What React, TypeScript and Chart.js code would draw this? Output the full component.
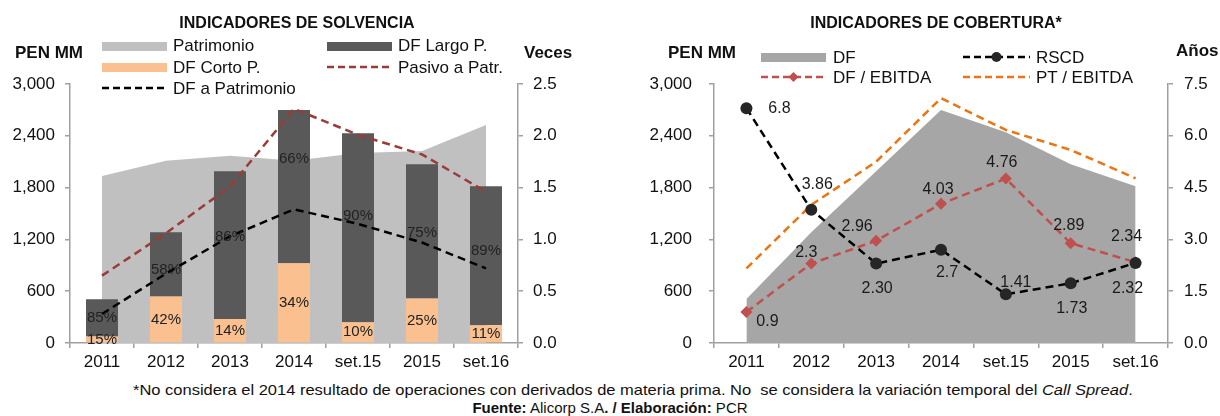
import React, { useEffect, useRef } from "react";
import { Chart, registerables } from "chart.js";
Chart.register(...registerables);

const categories = ["2011", "2012", "2013", "2014", "set.15", "2015", "set.16"];

// Left chart: Indicadores de Solvencia
const patrimonio = [1935, 2110, 2170, 2110, 2200, 2225, 2525];
const dfCorto = [75, 538, 278, 925, 240, 515, 205];
const dfLargo = [432, 744, 1711, 1775, 2190, 1555, 1610];
const pasivoPatr = [0.65, 1.06, 1.51, 2.26, 2.01, 1.82, 1.46];
const dfPatrimonio = [0.28, 0.67, 1.03, 1.29, 1.15, 0.97, 0.72];
const cortoPct = ["15%", "42%", "14%", "34%", "10%", "25%", "11%"];
const largoPct = ["85%", "58%", "86%", "66%", "90%", "75%", "89%"];
const leftYTicks = { min: 0, max: 3000, step: 600 };
const leftY1Ticks = { min: 0, max: 2.5, step: 0.5 };

// Right chart: Indicadores de Cobertura
const dfTotal = [510, 1282, 1989, 2700, 2440, 2070, 1815];
const rscd = [6.8, 3.86, 2.3, 2.7, 1.41, 1.73, 2.32];
const dfEbitda = [0.9, 2.3, 2.96, 4.03, 4.76, 2.89, 2.34];
const ptEbitda = [2.16, 4.0, 5.25, 7.09, 6.17, 5.59, 4.77];
const rscdLabels = ["6.8", "3.86", "2.30", "2.7", "1.41", "1.73", "2.32"];
const dfEbitdaLabels = ["0.9", "2.3", "2.96", "4.03", "4.76", "2.89", "2.34"];
const rightYTicks = { min: 0, max: 3000, step: 600 };
const rightY1Ticks = { min: 0, max: 7.5, step: 1.5 };

// label placement (style) relative to points / segment centres
const rscdOffsets = [[33, 0], [6, -25], [1, 25], [6, 23], [10, -12], [1, 25], [-8, 26]];
const dfEbitdaOffsets = [[21, 10], [-5, -11], [-19, -14], [-3, -14], [-4, -16], [-2, -18], [-9, -26]];
const largoLabelShift = [0, 5, -8, -28, -12, 1, -5];

const FONT = "'Liberation Sans', Arial, Helvetica, sans-serif";
const AXIS = "#a0a0a0";
const TXT = "#111111";

Chart.defaults.font.family = FONT;

function axisCommon(extra: any) {
  return {
    grid: { drawOnChartArea: false, drawTicks: true, tickLength: 5, color: AXIS, lineWidth: 1.5 },
    border: { display: true, color: AXIS, width: 1.5 },
    ...extra,
  };
}

function makeX() {
  return axisCommon({
    offset: true,
    grid: { offset: true, drawOnChartArea: false, drawTicks: true, tickLength: 5, color: AXIS, lineWidth: 1.5 },
    ticks: { font: { size: 17 }, color: TXT, padding: 4, maxRotation: 0, autoSkip: false },
    afterFit: (s: any) => { s.height = 37; },
  });
}

function makeY(position: string, t: any, width: number, pad: number, fmt: (v: number) => string, stacked = false) {
  return axisCommon({
    position,
    stacked,
    min: t.min,
    max: t.max,
    ticks: { stepSize: t.step, font: { size: 17 }, color: TXT, padding: pad, callback: (v: any) => fmt(Number(v)) },
    afterFit: (s: any) => { s.width = width; },
  });
}

const barLabelPlugin = {
  id: "barLabels",
  afterDatasetsDraw(chart: any) {
    const ctx = chart.ctx;
    ctx.save();
    ctx.font = `15px ${FONT}`;
    ctx.fillStyle = "#222222";
    ctx.textAlign = "center";
    ctx.textBaseline = "middle";
    chart.data.datasets.forEach((ds: any, i: number) => {
      if (!ds.pctLabels) return;
      const meta = chart.getDatasetMeta(i);
      meta.data.forEach((el: any, j: number) => {
        const cy = (el.y + el.base) / 2 + (ds.pctShift ? ds.pctShift[j] : 0);
        ctx.fillText(ds.pctLabels[j], el.x, cy);
      });
    });
    ctx.restore();
  },
};

const pointLabelPlugin = {
  id: "pointLabels",
  afterDatasetsDraw(chart: any) {
    const ctx = chart.ctx;
    ctx.save();
    ctx.font = `16px ${FONT}`;
    ctx.fillStyle = "#1a1a1a";
    ctx.textAlign = "center";
    ctx.textBaseline = "middle";
    chart.data.datasets.forEach((ds: any, i: number) => {
      if (!ds.ptLabels) return;
      const meta = chart.getDatasetMeta(i);
      meta.data.forEach((el: any, j: number) => {
        const off = ds.ptOffsets[j];
        ctx.fillText(ds.ptLabels[j], el.x + off[0], el.y + off[1]);
      });
    });
    ctx.restore();
  },
};

function LeftChart() {
  const ref = useRef<HTMLCanvasElement>(null);
  useEffect(() => {
    const chart = new Chart(ref.current as HTMLCanvasElement, {
      type: "bar",
      data: {
        labels: categories,
        datasets: [
          { type: "line", label: "DF a Patrimonio", data: dfPatrimonio, yAxisID: "y1", borderColor: "#000000", borderDash: [8, 5], borderWidth: 2.5, pointRadius: 0, fill: false, order: 0, tension: 0 } as any,
          { type: "line", label: "Pasivo a Patr.", data: pasivoPatr, yAxisID: "y1", borderColor: "#9b3b38", borderDash: [8, 5], borderWidth: 2.5, pointRadius: 0, fill: false, order: 0, tension: 0 } as any,
          { type: "bar", label: "DF Corto P.", data: dfCorto, yAxisID: "y", backgroundColor: "#fac090", stack: "df", order: 1, barPercentage: 0.5, categoryPercentage: 1, pctLabels: cortoPct } as any,
          { type: "bar", label: "DF Largo P.", data: dfLargo, yAxisID: "y", backgroundColor: "#595959", stack: "df", order: 1, barPercentage: 0.5, categoryPercentage: 1, pctLabels: largoPct, pctShift: largoLabelShift } as any,
          { type: "line", label: "Patrimonio", data: patrimonio, yAxisID: "y", backgroundColor: "#c0c0c0", borderColor: "rgba(0,0,0,0)", borderWidth: 1, pointRadius: 0, fill: "origin", order: 2, stack: "area", tension: 0 } as any,
        ],
      },
      options: {
        animation: false,
        responsive: false,
        layout: { padding: { top: 84, left: 0, right: 0, bottom: 0 } },
        plugins: { legend: { display: false }, tooltip: { enabled: false }, title: { display: false } },
        scales: {
          x: makeX(),
          y: makeY("left", leftYTicks, 70, 10, (v) => v.toLocaleString("en-US"), true),
          y1: makeY("right", leftY1Ticks, 605 - 518, 10, (v) => v.toFixed(1)),
        } as any,
      },
      plugins: [barLabelPlugin],
    });
    return () => chart.destroy();
  }, []);
  return <canvas ref={ref} width={605} height={380} style={{ position: "absolute", left: 0, top: 0, width: 605, height: 380 }} />;
}

function RightChart() {
  const ref = useRef<HTMLCanvasElement>(null);
  useEffect(() => {
    const chart = new Chart(ref.current as HTMLCanvasElement, {
      type: "line",
      data: {
        labels: categories,
        datasets: [
          { label: "RSCD", data: rscd, yAxisID: "y1", borderColor: "#000000", borderDash: [8, 5], borderWidth: 2.5, pointRadius: 6, pointStyle: "circle", pointBackgroundColor: "#262626", pointBorderColor: "#262626", pointBorderWidth: 0, fill: false, order: 0, tension: 0, ptLabels: rscdLabels, ptOffsets: rscdOffsets } as any,
          { label: "DF / EBITDA", data: dfEbitda, yAxisID: "y1", borderColor: "#c0504d", borderDash: [8, 5], borderWidth: 2.5, pointRadius: 6, pointStyle: "rectRot", pointBackgroundColor: "#c0504d", pointBorderColor: "#c0504d", pointBorderWidth: 0, fill: false, order: 1, tension: 0, ptLabels: dfEbitdaLabels, ptOffsets: dfEbitdaOffsets } as any,
          { label: "PT / EBITDA", data: ptEbitda, yAxisID: "y1", borderColor: "#ec7511", borderDash: [8, 5], borderWidth: 2.5, pointRadius: 0, fill: false, order: 1, tension: 0 } as any,
          { label: "DF", data: dfTotal, yAxisID: "y", backgroundColor: "#a6a6a6", borderColor: "rgba(0,0,0,0)", borderWidth: 1, pointRadius: 0, fill: "origin", order: 2, tension: 0 } as any,
        ],
      },
      options: {
        animation: false,
        responsive: false,
        layout: { padding: { top: 84, left: 0, right: 0, bottom: 0 } },
        plugins: { legend: { display: false }, tooltip: { enabled: false }, title: { display: false } },
        scales: {
          x: makeX(),
          y: makeY("left", rightYTicks, 114, 17, (v) => v.toLocaleString("en-US")),
          y1: makeY("right", rightY1Ticks, 620 - 568, 11, (v) => v.toFixed(1)),
        } as any,
      },
      plugins: [pointLabelPlugin],
    });
    return () => chart.destroy();
  }, []);
  return <canvas ref={ref} width={620} height={380} style={{ position: "absolute", left: 600, top: 0, width: 620, height: 380 }} />;
}

function Txt({ x, cy, size, bold, children, anchor, sx }: any) {
  return (
    <div
      style={{
        position: "absolute",
        left: anchor === "center" ? x - 300 : x,
        width: anchor === "center" ? 600 : undefined,
        textAlign: anchor === "center" ? "center" : "left",
        top: cy - size / 2,
        fontSize: size,
        lineHeight: 1,
        fontWeight: bold ? "bold" : "normal",
        whiteSpace: "nowrap",
        color: "#111",
        transform: sx ? `scaleX(${sx})` : undefined,
        transformOrigin: anchor === "center" ? "center" : "left",
      }}
    >
      {children}
    </div>
  );
}

function Box({ x, cy, w, color }: any) {
  return <div style={{ position: "absolute", left: x, top: cy - 4.5, width: w, height: 9, background: color }} />;
}

function Dash({ x, cy, w, color, marker }: any) {
  return (
    <svg style={{ position: "absolute", left: x, top: cy - 8 }} width={w} height={16}>
      <line x1={0} y1={8} x2={w} y2={8} stroke={color} strokeWidth={2.5} strokeDasharray="7 4" />
      {marker === "circle" && <circle cx={w / 2} cy={8} r={5} fill="#262626" />}
      {marker === "diamond" && <polygon points={`${w / 2 - 5},8 ${w / 2},3 ${w / 2 + 5},8 ${w / 2},13`} fill="#c0504d" />}
    </svg>
  );
}

export default function App() {
  return (
    <div style={{ position: "absolute", left: 0, top: 0, width: 1220, height: 416, overflow: "hidden", background: "#fff", fontFamily: FONT }}>
      <LeftChart />
      <RightChart />

      <Txt x={297} cy={23} size={16} bold anchor="center">INDICADORES DE SOLVENCIA</Txt>
      <Txt x={936} cy={23} size={16} bold anchor="center">INDICADORES DE COBERTURA*</Txt>

      <Txt x={15} cy={52} size={17} bold>PEN MM</Txt>
      <Txt x={524} cy={52} size={17} bold>Veces</Txt>
      <Txt x={668} cy={52} size={17} bold>PEN MM</Txt>
      <Txt x={1176} cy={50} size={17} bold>Años</Txt>

      {/* left legend */}
      <Box x={102} cy={46} w={65} color="#c0c0c0" />
      <Txt x={173} cy={45} size={17}>Patrimonio</Txt>
      <Box x={102} cy={67} w={65} color="#fac090" />
      <Txt x={173} cy={67} size={17}>DF Corto P.</Txt>
      <Dash x={102} cy={88} w={65} color="#000000" />
      <Txt x={173} cy={88} size={17}>DF a Patrimonio</Txt>
      <Box x={327} cy={46} w={65} color="#595959" />
      <Txt x={398} cy={45} size={17}>DF Largo P.</Txt>
      <Dash x={327} cy={67} w={65} color="#9b3b38" />
      <Txt x={398} cy={67} size={17}>Pasivo a Patr.</Txt>

      {/* right legend */}
      <Box x={761} cy={57} w={65} color="#a6a6a6" />
      <Txt x={833} cy={57} size={17}>DF</Txt>
      <Dash x={761} cy={77} w={65} color="#c0504d" marker="diamond" />
      <Txt x={833} cy={77} size={17}>DF / EBITDA</Txt>
      <Dash x={963} cy={57} w={67} color="#000000" marker="circle" />
      <Txt x={1036} cy={57} size={17}>RSCD</Txt>
      <Dash x={963} cy={77} w={67} color="#ec7511" />
      <Txt x={1036} cy={77} size={17}>PT / EBITDA</Txt>

      {/* footnotes */}
      <Txt x={133} cy={389} size={15} sx={1.1}>
        *No considera el 2014 resultado de operaciones con derivados de materia prima. No&nbsp; se considera la variación temporal del <i>Call Spread</i>.
      </Txt>
      <Txt x={610} cy={407} size={15} anchor="center">
        <b>Fuente:</b> Alicorp S.A<b>. / Elaboración:</b> PCR
      </Txt>
    </div>
  );
}
